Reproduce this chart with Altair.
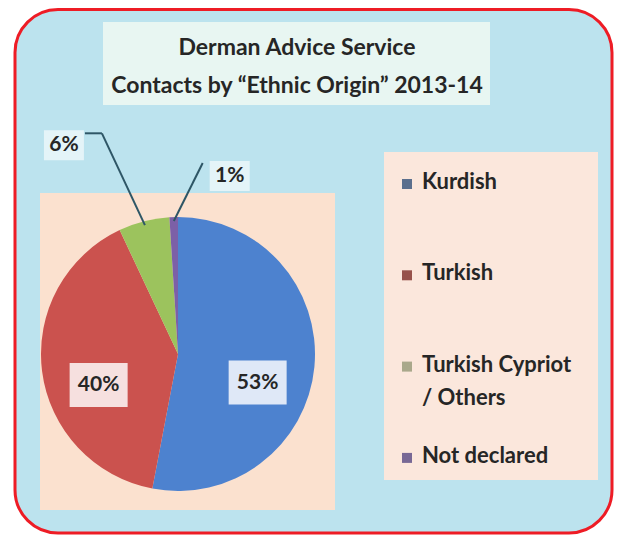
import altair as alt
import pandas as pd

# ---- data ----
categories = ["Kurdish", "Turkish", "Turkish Cypriot / Others", "Not declared"]
shares = [53, 40, 6, 1]
share_labels = ["53%", "40%", "6%", "1%"]
legend_text = ["Kurdish", "Turkish", "Turkish Cypriot\n/ Others", "Not declared"]
title_lines = ["Derman Advice Service", "Contacts by \u201cEthnic Origin\u201d 2013-14"]

# ---- styles ----
pie_colors = ["#4d82cf", "#cb524e", "#9cc35d", "#7c60a7"]
legend_colors = ["#5b6f8d", "#97524b", "#a9a88b", "#786895"]
BG = "#bce3ee"
BORDER = "#ee1c25"
TEXT = "#262626"
LEADER = "#2e5666"
FONT = "Lato"

W, H = 606, 527
CX, CY, R = 170, 346, 137

df = pd.DataFrame({
    "category": categories,
    "share": shares,
    "label": share_labels,
    "legend": legend_text,
    "order": list(range(len(categories))),
})
titles = pd.DataFrame({"line": title_lines, "i": list(range(len(title_lines)))})
one = pd.DataFrame({"k": [0]})

def X(f):
    return alt.X(f, type="quantitative", scale=None, axis=None)

def Y(f):
    return alt.Y(f, type="quantitative", scale=None, axis=None)

# ---- decoration panels ----
deco = alt.Chart(one)
frame = deco.mark_rect(cornerRadius=43, fill=BG, stroke=BORDER, strokeWidth=3).encode(
    x=alt.value(7), x2=alt.value(W - 2), y=alt.value(1.5), y2=alt.value(H - 2))
title_box = deco.mark_rect(fill="#ecf7f2", opacity=0.9).encode(
    x=alt.value(95), x2=alt.value(482), y=alt.value(14), y2=alt.value(97))
pie_box = deco.mark_rect(fill="#fbe1cf").encode(
    x=alt.value(32), x2=alt.value(327), y=alt.value(185), y2=alt.value(502))
legend_box = deco.mark_rect(fill="#fbe7dc").encode(
    x=alt.value(376), x2=alt.value(590), y=alt.value(144), y2=alt.value(472))

# ---- title ----
title = alt.Chart(titles).transform_calculate(ty="40 + 38*datum.i").mark_text(
    font=FONT, fontSize=23, fontWeight="bold", color=TEXT, align="center", baseline="middle"
).encode(x=alt.value(289), y=Y("ty"), text="line:N")

# ---- pie ----
pie = alt.Chart(df).mark_arc(outerRadius=R).encode(
    theta=alt.Theta("share:Q", stack=True),
    order=alt.Order("order:Q"),
    color=alt.Color("category:N", scale=alt.Scale(domain=categories, range=pie_colors), legend=None),
    x=alt.value(CX), y=alt.value(CY),
)

geo = alt.Chart(df).transform_window(
    cum="sum(share)", sort=[alt.SortField("order")], frame=[None, 0]
).transform_joinaggregate(total="sum(share)").transform_calculate(
    mid="2*PI*(datum.cum - datum.share/2)/datum.total"
).transform_calculate(
    px=f"{CX} + {R}*sin(datum.mid)",
    py=f"{CY} - {R}*cos(datum.mid)",
    ex=f"{CX} + {R - 4}*sin(datum.mid)",
    ey=f"{CY} - {R - 4}*cos(datum.mid)",
)

label_style = dict(font=FONT, fontSize=21, fontWeight="bold", color=TEXT, align="center", baseline="middle")

# inside labels
inner = geo.transform_filter("datum.share >= 10").transform_calculate(
    lx=f"{CX} + 80*sin(datum.mid)", ly=f"{CY} - 80*cos(datum.mid) + 21"
)
inner_box = inner.transform_calculate(
    b1="datum.lx - 29", b2="datum.lx + 29", c1="datum.ly - 22", c2="datum.ly + 22"
).mark_rect(fill="white", opacity=0.82).encode(x=X("b1"), x2="b2:Q", y=Y("c1"), y2="c2:Q")
inner_text = inner.mark_text(**label_style).encode(x=X("lx"), y=Y("ly"), text="label:N")

# outer label: Turkish Cypriot / Others
o6 = geo.transform_filter("datum.order == 2").transform_calculate(
    lx="datum.px - 80", ly="datum.py - 76"
)
o6_box = o6.transform_calculate(
    b1="datum.lx - 20", b2="datum.lx + 20", c1="datum.ly - 15", c2="datum.ly + 15"
).mark_rect(fill="white", opacity=0.6).encode(x=X("b1"), x2="b2:Q", y=Y("c1"), y2="c2:Q")
o6_text = o6.mark_text(**label_style).encode(x=X("lx"), y=Y("ly"), text="label:N")
o6_l1 = o6.transform_calculate(
    a1="datum.lx + 21", a2="datum.lx + 38", c1="datum.ly - 12"
).mark_rule(color=LEADER, strokeWidth=2).encode(x=X("a1"), x2="a2:Q", y=Y("c1"), y2="c1:Q")
o6_l2 = o6.transform_calculate(
    a1="datum.lx + 38", c1="datum.ly - 12"
).mark_rule(color=LEADER, strokeWidth=2).encode(x=X("a1"), x2="ex:Q", y=Y("c1"), y2="ey:Q")

# outer label: Not declared
o1 = geo.transform_filter("datum.order == 3").transform_calculate(
    lx="datum.px + 56", ly="datum.py - 41"
)
o1_box = o1.transform_calculate(
    b1="datum.lx - 20", b2="datum.lx + 20", c1="datum.ly - 15", c2="datum.ly + 15"
).mark_rect(fill="white", opacity=0.6).encode(x=X("b1"), x2="b2:Q", y=Y("c1"), y2="c2:Q")
o1_text = o1.mark_text(**label_style).encode(x=X("lx"), y=Y("ly"), text="label:N")
o1_l = o1.transform_calculate(
    a1="datum.lx - 27", c1="datum.ly - 13"
).mark_rule(color=LEADER, strokeWidth=2).encode(x=X("a1"), x2="ex:Q", y=Y("c1"), y2="ey:Q")

# ---- legend ----
leg = alt.Chart(df).transform_calculate(ly="176 + 91.3*datum.order")
leg_sq = leg.mark_square(size=100, opacity=1).encode(
    x=alt.value(399), y=Y("ly"),
    color=alt.Color("category:N", scale=alt.Scale(domain=categories, range=legend_colors), legend=None),
)
leg_txt = leg.mark_text(
    font=FONT, fontSize=22, fontWeight="bold", color=TEXT, align="left", baseline="top",
    dy=-12, lineBreak="\n", lineHeight=33,
).encode(x=alt.value(414), y=Y("ly"), text="legend:N")

chart = alt.layer(
    frame, title_box, pie_box, legend_box, title,
    pie, o6_l1, o6_l2, o1_l,
    inner_box, inner_text, o6_box, o6_text, o1_box, o1_text,
    leg_sq, leg_txt,
).resolve_scale(color="independent").properties(
    width=W, height=H,
    autosize=alt.AutoSizeParams(type="none"),
    padding=0,
    background="white",
).configure_view(stroke=None)

chart.save("out.html", embed_options={"renderer": "svg", "actions": False})
